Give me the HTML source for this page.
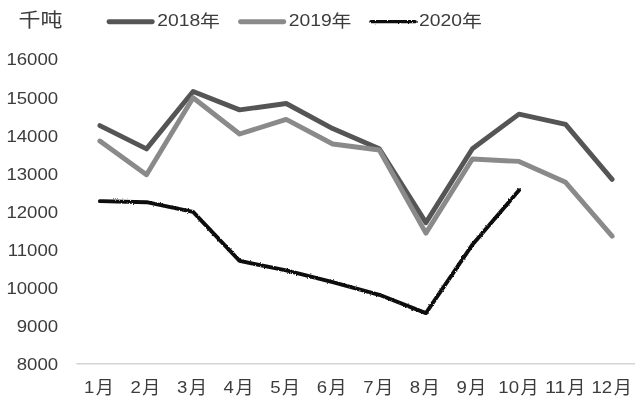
<!DOCTYPE html>
<html><head><meta charset="utf-8"><title>chart</title>
<style>
html,body{margin:0;padding:0;background:#fff;}
svg{display:block}
text{fill:#3c3c3c;}
.d{font-family:"Liberation Sans",sans-serif;font-size:15.6px;}
.c{font-family:"Noto Sans CJK SC","WenQuanYi Zen Hei",sans-serif;font-weight:400;}
.a{stroke:#555;stroke-width:4.9;fill:none;stroke-linecap:round;stroke-linejoin:round}
.b{stroke:#8a8a8a;stroke-width:4.9;fill:none;stroke-linecap:round;stroke-linejoin:round}
.k{stroke:#0a0a0a;stroke-width:3.9;fill:none;stroke-linecap:round;stroke-linejoin:round}
</style></head><body>
<svg width="644" height="407" viewBox="0 0 644 407">
<defs><filter id="r" x="0" y="0" width="644" height="407" filterUnits="userSpaceOnUse"><feTurbulence type="fractalNoise" baseFrequency="0.6" numOctaves="2" seed="3" result="n"/><feDisplacementMap in="SourceGraphic" in2="n" scale="2.4" xChannelSelector="R" yChannelSelector="G"/></filter></defs>
<rect width="644" height="407" fill="#fff"/>
<text class="c" font-size="19.5" transform="translate(18.60,27.20) scale(1.127,1)">千吨</text><line x1="109.0" y1="21.7" x2="152.3" y2="21.7" class="a"/><text><tspan class="d" x="157.20" y="26.30" textLength="43.03" lengthAdjust="spacingAndGlyphs">2018</tspan><tspan class="c" font-size="17.0" x="200.10" y="26.70" textLength="19.89" lengthAdjust="spacingAndGlyphs">年</tspan></text><line x1="240.5" y1="21.7" x2="283.8" y2="21.7" class="b"/><text><tspan class="d" x="288.70" y="26.30" textLength="43.03" lengthAdjust="spacingAndGlyphs">2019</tspan><tspan class="c" font-size="17.0" x="331.60" y="26.70" textLength="19.89" lengthAdjust="spacingAndGlyphs">年</tspan></text><line x1="370.9" y1="21.7" x2="415.2" y2="21.7" class="k" filter="url(#r)" style="stroke-width:3.2"/><text><tspan class="d" x="419.10" y="26.30" textLength="43.03" lengthAdjust="spacingAndGlyphs">2020</tspan><tspan class="c" font-size="17.0" x="462.00" y="26.70" textLength="19.89" lengthAdjust="spacingAndGlyphs">年</tspan></text>
<line x1="76.25" y1="363.75" x2="635" y2="363.75" stroke="#d4d4d4" stroke-width="1.3"/>
<text class="d" text-anchor="end" transform="translate(58.10,370.35) scale(1.193,1)">8000</text><text class="d" text-anchor="end" transform="translate(58.10,332.24) scale(1.193,1)">9000</text><text class="d" text-anchor="end" transform="translate(58.10,294.13) scale(1.193,1)">10000</text><text class="d" text-anchor="end" transform="translate(58.10,256.02) scale(1.193,1)">11000</text><text class="d" text-anchor="end" transform="translate(58.10,217.91) scale(1.193,1)">12000</text><text class="d" text-anchor="end" transform="translate(58.10,179.80) scale(1.193,1)">13000</text><text class="d" text-anchor="end" transform="translate(58.10,141.69) scale(1.193,1)">14000</text><text class="d" text-anchor="end" transform="translate(58.10,103.58) scale(1.193,1)">15000</text><text class="d" text-anchor="end" transform="translate(58.10,65.47) scale(1.193,1)">16000</text><text><tspan class="d" x="83.93" y="392.80" textLength="10.35" lengthAdjust="spacingAndGlyphs">1</tspan><tspan class="c" font-size="18.0" x="95.78" y="394.40" textLength="18.00" lengthAdjust="spacingAndGlyphs">月</tspan></text><text><tspan class="d" x="130.49" y="392.80" textLength="10.35" lengthAdjust="spacingAndGlyphs">2</tspan><tspan class="c" font-size="18.0" x="142.34" y="394.40" textLength="18.00" lengthAdjust="spacingAndGlyphs">月</tspan></text><text><tspan class="d" x="177.06" y="392.80" textLength="10.35" lengthAdjust="spacingAndGlyphs">3</tspan><tspan class="c" font-size="18.0" x="188.91" y="394.40" textLength="18.00" lengthAdjust="spacingAndGlyphs">月</tspan></text><text><tspan class="d" x="223.62" y="392.80" textLength="10.35" lengthAdjust="spacingAndGlyphs">4</tspan><tspan class="c" font-size="18.0" x="235.47" y="394.40" textLength="18.00" lengthAdjust="spacingAndGlyphs">月</tspan></text><text><tspan class="d" x="270.18" y="392.80" textLength="10.35" lengthAdjust="spacingAndGlyphs">5</tspan><tspan class="c" font-size="18.0" x="282.03" y="394.40" textLength="18.00" lengthAdjust="spacingAndGlyphs">月</tspan></text><text><tspan class="d" x="316.74" y="392.80" textLength="10.35" lengthAdjust="spacingAndGlyphs">6</tspan><tspan class="c" font-size="18.0" x="328.59" y="394.40" textLength="18.00" lengthAdjust="spacingAndGlyphs">月</tspan></text><text><tspan class="d" x="363.31" y="392.80" textLength="10.35" lengthAdjust="spacingAndGlyphs">7</tspan><tspan class="c" font-size="18.0" x="375.16" y="394.40" textLength="18.00" lengthAdjust="spacingAndGlyphs">月</tspan></text><text><tspan class="d" x="409.87" y="392.80" textLength="10.35" lengthAdjust="spacingAndGlyphs">8</tspan><tspan class="c" font-size="18.0" x="421.72" y="394.40" textLength="18.00" lengthAdjust="spacingAndGlyphs">月</tspan></text><text><tspan class="d" x="456.43" y="392.80" textLength="10.35" lengthAdjust="spacingAndGlyphs">9</tspan><tspan class="c" font-size="18.0" x="468.28" y="394.40" textLength="18.00" lengthAdjust="spacingAndGlyphs">月</tspan></text><text><tspan class="d" x="498.39" y="392.80" textLength="20.70" lengthAdjust="spacingAndGlyphs">10</tspan><tspan class="c" font-size="18.0" x="520.59" y="394.40" textLength="18.00" lengthAdjust="spacingAndGlyphs">月</tspan></text><text><tspan class="d" x="544.96" y="392.80" textLength="20.70" lengthAdjust="spacingAndGlyphs">11</tspan><tspan class="c" font-size="18.0" x="567.16" y="394.40" textLength="18.00" lengthAdjust="spacingAndGlyphs">月</tspan></text><text><tspan class="d" x="591.52" y="392.80" textLength="20.70" lengthAdjust="spacingAndGlyphs">12</tspan><tspan class="c" font-size="18.0" x="613.72" y="394.40" textLength="18.00" lengthAdjust="spacingAndGlyphs">月</tspan></text>
<polyline class="a" points="99.9,125.6 146.5,148.9 193.1,91.5 239.6,109.9 286.2,103.5 332.7,128.6 379.3,148.8 425.9,222.6 472.4,148.8 519.0,114.1 565.6,124.4 612.1,179.3"/>
<polyline class="b" points="99.9,141.0 146.5,174.7 193.1,97.7 239.6,134.0 286.2,119.4 332.7,144.0 379.3,150.0 425.9,233.1 472.4,159.0 519.0,161.4 565.6,182.3 612.1,236.2"/>
<polyline class="k" filter="url(#r)" points="99.9,201.1 146.5,202.2 193.1,211.9 239.6,260.9 286.2,270.4 332.7,282.2 379.3,294.8 425.9,313.1 472.4,244.7 519.0,190.2"/>
</svg>
</body></html>
